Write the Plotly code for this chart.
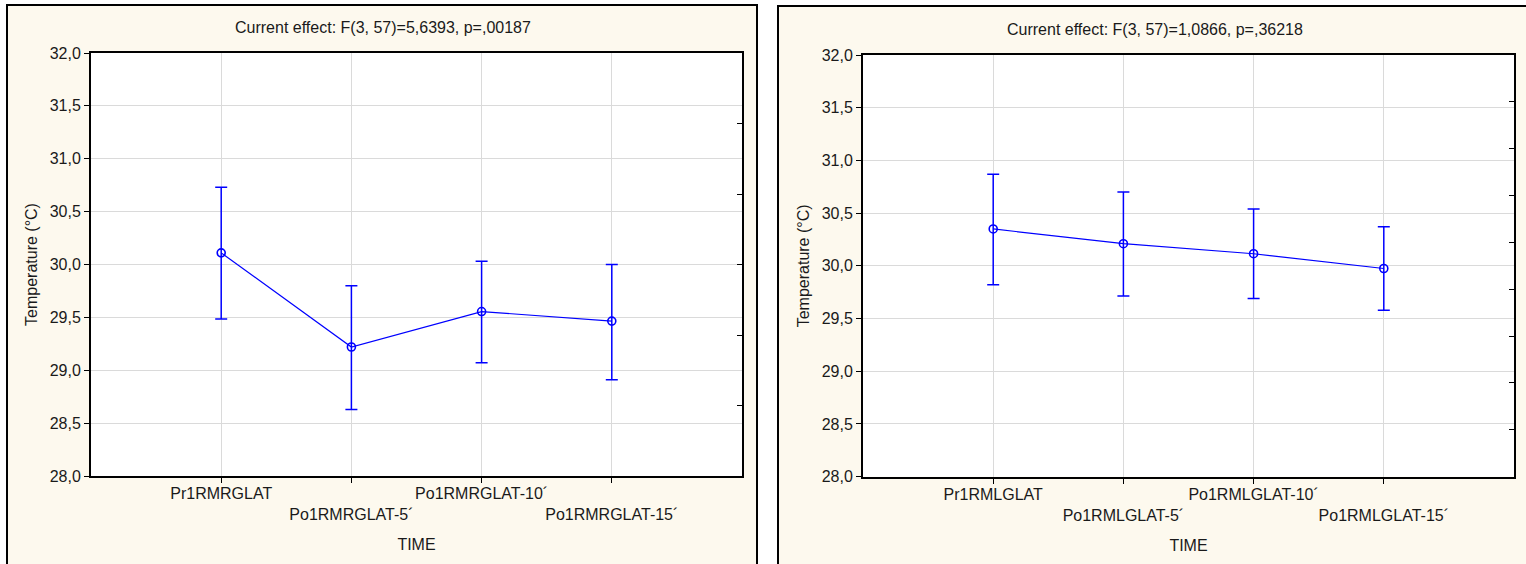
import plotly.graph_objects as go

W, H = 1526, 564

# ---------------- data ----------------
cats_left = ["Pr1RMRGLAT", "Po1RMRGLAT-5´", "Po1RMRGLAT-10´", "Po1RMRGLAT-15´"]
mean_left = [30.11, 29.22, 29.555, 29.465]
upper_left = [30.73, 29.80, 30.03, 30.00]
lower_left = [29.485, 28.63, 29.07, 28.91]
title_left = "Current effect: F(3, 57)=5,6393, p=,00187"

cats_right = ["Pr1RMLGLAT", "Po1RMLGLAT-5´", "Po1RMLGLAT-10´", "Po1RMLGLAT-15´"]
mean_right = [30.35, 30.21, 30.115, 29.975]
upper_right = [30.87, 30.70, 30.54, 30.37]
lower_right = [29.82, 29.715, 29.69, 29.58]
title_right = "Current effect: F(3, 57)=1,0866, p=,36218"

y_ticks = [28.0, 28.5, 29.0, 29.5, 30.0, 30.5, 31.0, 31.5, 32.0]
y_label = "Temperature (°C)"
x_label = "TIME"

# ---------------- style ----------------
FONT = "Liberation Sans, Arial, sans-serif"
FS = 16
TXT = "#1a1a1a"
BLUE = "#0000FF"
CREAM = "#FDF9EE"
GRID = "#DADADA"


def px_x(p):
    return p / W


def px_y(p):
    return 1 - p / H


# plot-area boxes (pixels): left, top, right, bottom
box_l = (91, 53, 742, 476)
box_r = (863, 55, 1514, 476.7)

fig = go.Figure()


def add_series(cats, mean, upper, lower, xa, ya):
    xs = list(range(len(cats)))
    fig.add_trace(go.Scatter(
        x=xs, y=mean, mode="lines+markers",
        line=dict(color=BLUE, width=1.2),
        marker=dict(symbol="circle-open", size=8, color=BLUE, line=dict(width=1.6, color=BLUE)),
        error_y=dict(type="data", symmetric=False,
                     array=[u - m for u, m in zip(upper, mean)],
                     arrayminus=[m - l for m, l in zip(mean, lower)],
                     color=BLUE, thickness=1.5, width=6),
        xaxis=xa, yaxis=ya, showlegend=False, hoverinfo="skip",
    ))


add_series(cats_left, mean_left, upper_left, lower_left, "x", "y")
add_series(cats_right, mean_right, upper_right, lower_right, "x2", "y2")
# empty traces so the secondary right-hand tick scales get drawn
fig.add_trace(go.Scatter(x=[None], y=[None], xaxis="x", yaxis="y3", showlegend=False, hoverinfo="skip"))
fig.add_trace(go.Scatter(x=[None], y=[None], xaxis="x2", yaxis="y4", showlegend=False, hoverinfo="skip"))

# panel backgrounds & frames
shapes = []
for (x0, x1, y0) in [(7, 757, 5), (778, 1545, 6)]:
    shapes.append(dict(type="rect", xref="paper", yref="paper",
                       x0=px_x(x0), x1=px_x(x1), y0=px_y(y0), y1=-0.05,
                       fillcolor=CREAM, line=dict(color="black", width=2), layer="below"))
for b in (box_l, box_r):
    shapes.append(dict(type="rect", xref="paper", yref="paper",
                       x0=px_x(b[0]), x1=px_x(b[2]), y0=px_y(b[3]), y1=px_y(b[1]),
                       fillcolor="white", line=dict(width=0), layer="below"))

tfont = dict(family=FONT, size=FS, color=TXT)

common_x = dict(range=[-1, 4], showgrid=True, gridcolor=GRID, gridwidth=1,
                showline=True, linecolor="black", linewidth=2, mirror=True,
                ticks="outside", ticklen=5, tickcolor="black", tickwidth=1,
                tickangle=0, ticklabelstandoff=-3,
                zeroline=False, automargin=False, tickfont=tfont)
common_y = dict(range=[28, 32], tickvals=y_ticks, tickformat=".1f",
                showgrid=True, gridcolor=GRID, gridwidth=1,
                showline=True, linecolor="black", linewidth=2, mirror=True,
                ticks="outside", ticklen=5, tickcolor="black", tickwidth=1,
                zeroline=False, automargin=False, tickfont=tfont)


def staggered(c):
    return [t if i % 2 == 0 else "<br>" + t for i, t in enumerate(c)]


layout_axes = dict(
    xaxis=dict(common_x, domain=[px_x(box_l[0]), px_x(box_l[2])], anchor="y",
               tickvals=list(range(len(cats_left))), ticktext=staggered(cats_left),
               title=dict(text=x_label, standoff=17, font=tfont)),
    yaxis=dict(common_y, domain=[px_y(box_l[3]), px_y(box_l[1])], anchor="x",
               title=dict(text=y_label, standoff=8, font=tfont)),
    xaxis2=dict(common_x, domain=[px_x(box_r[0]), px_x(box_r[2])], anchor="y2",
                tickvals=list(range(len(cats_right))), ticktext=staggered(cats_right),
                title=dict(text=x_label, standoff=17, font=tfont)),
    yaxis2=dict(common_y, domain=[px_y(box_r[3]), px_y(box_r[1])], anchor="x2",
                title=dict(text=y_label, standoff=8, font=tfont)),
    # right-side unlabelled tick scales
    yaxis3=dict(range=[0, 6], dtick=1, overlaying="y", anchor="x", side="right",
                ticks="inside", ticklen=5, tickcolor="black", showticklabels=False,
                showgrid=False, showline=False, zeroline=False, automargin=False),
    yaxis4=dict(range=[0, 9], dtick=1, overlaying="y2", anchor="x2", side="right",
                ticks="inside", ticklen=5, tickcolor="black", showticklabels=False,
                showgrid=False, showline=False, zeroline=False, automargin=False),
)

annotations = [
    dict(text=title_left, xref="paper", yref="paper", x=px_x(383), y=px_y(28),
         xanchor="center", yanchor="middle", showarrow=False, font=tfont),
    dict(text=title_right, xref="paper", yref="paper", x=px_x(1155), y=px_y(29),
         xanchor="center", yanchor="middle", showarrow=False, font=tfont),
]

fig.update_layout(
    width=W, height=H, margin=dict(l=0, r=0, t=0, b=0, pad=0, autoexpand=False),
    paper_bgcolor="white", plot_bgcolor="rgba(0,0,0,0)",
    separators=", ", shapes=shapes, annotations=annotations,
    font=tfont,
    **layout_axes,
)

fig.write_html("out.html",
               config={"displayModeBar": False, "staticPlot": True},
               post_script="document.body.style.margin='0';document.body.style.overflow='hidden';")
